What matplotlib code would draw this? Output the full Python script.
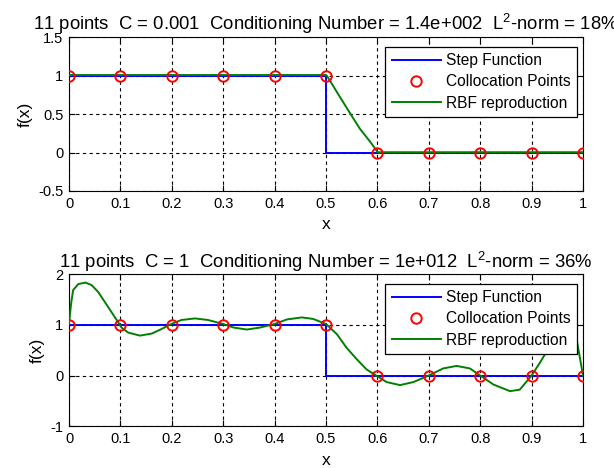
import matplotlib
matplotlib.use("Agg")
import matplotlib.pyplot as plt

plt.rcParams['font.family'] = ['Liberation Sans', 'DejaVu Sans']
plt.rcParams['mathtext.fontset'] = 'custom'
plt.rcParams['mathtext.rm'] = 'Liberation Sans'
plt.rcParams['mathtext.it'] = 'Liberation Sans'
plt.rcParams['mathtext.bf'] = 'Liberation Sans'

# ---------------- data ----------------
colloc_x = [0, 0.1, 0.2, 0.3, 0.4, 0.5, 0.6, 0.7, 0.8, 0.9, 1.0]
colloc_y = [1, 1, 1, 1, 1, 1, 0, 0, 0, 0, 0]

step_x = [0, 0.5, 0.5, 1.0]
step_y = [1, 1, 0, 0]

# RBF reproduction, C = 0.001
rbf1_x = [0.0, 0.5, 0.5025, 0.511, 0.527, 0.547, 0.566, 0.586, 0.597, 0.6, 1.0]
rbf1_y = [1.01, 1.01, 0.99, 0.90, 0.725, 0.51, 0.31, 0.14, 0.04, 0.005, 0.005]

# RBF reproduction, C = 1
rbf2_x = [0.0, 0.004, 0.008, 0.018, 0.032, 0.044, 0.057, 0.070, 0.083, 0.096,
          0.102, 0.115, 0.138, 0.161, 0.180, 0.199, 0.219, 0.245, 0.270, 0.300,
          0.320, 0.346, 0.372, 0.400, 0.424, 0.453, 0.475, 0.500, 0.521, 0.540,
          0.560, 0.579, 0.599, 0.618, 0.644, 0.670, 0.700, 0.728, 0.754, 0.780,
          0.800, 0.826, 0.858, 0.877, 0.900, 0.916, 0.926, 0.940, 0.955, 0.970,
          0.980, 0.988, 0.994, 1.000]
rbf2_y = [1.02, 1.42, 1.69, 1.81, 1.84, 1.79, 1.65, 1.45, 1.25, 1.05,
          0.95, 0.85, 0.79, 0.83, 0.92, 1.02, 1.10, 1.13, 1.10, 1.02,
          0.95, 0.91, 0.95, 1.02, 1.11, 1.15, 1.12, 1.02, 0.82, 0.55,
          0.32, 0.12, -0.01, -0.13, -0.19, -0.13, 0.0, 0.14, 0.19, 0.14,
          0.0, -0.18, -0.31, -0.28, 0.0, 0.25, 0.42, 0.80, 1.10, 1.20,
          1.05, 0.69, 0.35, 0.0]

xticks = [0, 0.1, 0.2, 0.3, 0.4, 0.5, 0.6, 0.7, 0.8, 0.9, 1]
xticklabels = ['0', '0.1', '0.2', '0.3', '0.4', '0.5', '0.6', '0.7', '0.8', '0.9', '1']
yticks1 = [-0.5, 0, 0.5, 1, 1.5]
yticklabels1 = ['-0.5', '0', '0.5', '1', '1.5']
yticks2 = [-1, 0, 1, 2]
yticklabels2 = ['-1', '0', '1', '2']

title1 = r'11 points  C = 0.001  Conditioning Number = 1.4e+002  L$^{2}$-norm = 18%'
title2 = r'11 points  C = 1  Conditioning Number = 1e+012  L$^{2}$-norm = 36%'
legend_labels = ['Step Function', 'Collocation Points', 'RBF reproduction']

# ---------------- figure ----------------
fig = plt.figure(figsize=(6.14, 4.68), dpi=100)
ax1 = fig.add_axes([0.1124, 0.5919, 0.8371, 0.3282])
ax2 = fig.add_axes([0.1124, 0.0897, 0.8371, 0.3238])

panels = [
    (ax1, rbf1_x, rbf1_y, (-0.5, 1.5), yticks1, yticklabels1, title1),
    (ax2, rbf2_x, rbf2_y, (-1, 2), yticks2, yticklabels2, title2),
]

for ax, rx, ry, ylim, yt, ytl, title in panels:
    h1, = ax.plot(step_x, step_y, color='#0000ff', lw=1.4, zorder=3)
    h2, = ax.plot(colloc_x, colloc_y, linestyle='none', marker='o', ms=7.5,
                  mfc='none', mec='#ff0000', mew=1.4, zorder=5)
    h3, = ax.plot(rx, ry, color='#008000', lw=1.4, zorder=4)
    ax.set_xlim(0, 1)
    ax.set_ylim(*ylim)
    ax.set_xticks(xticks)
    ax.set_xticklabels(xticklabels)
    ax.set_yticks(yt)
    ax.set_yticklabels(ytl)
    ax.grid(True, color='black', linestyle=(0, (3, 3)), linewidth=0.8)
    ax.set_axisbelow(True)
    ax.tick_params(direction='in', top=True, right=True, length=4,
                   labelsize=10.5, pad=4, colors='black')
    for s in ax.spines.values():
        s.set_linewidth(0.8)
        s.set_color('black')
    ax.set_xlabel('x', fontsize=12.5, labelpad=5)
    ax.set_ylabel('f(x)', fontsize=12.5, labelpad=4)
    ax.set_title(title, fontsize=13.3, pad=5)
    leg = ax.legend([h1, h2, h3], legend_labels, loc='upper right',
                    bbox_to_anchor=(0.988, 0.938), fontsize=11.2,
                    frameon=True, fancybox=False, framealpha=1,
                    edgecolor='black', handlelength=3.2, handletextpad=0.3,
                    borderpad=0.4, labelspacing=0.4, borderaxespad=0)
    leg.get_frame().set_linewidth(0.9)
    leg.set_zorder(10)

fig.savefig('out.png', dpi=100)
